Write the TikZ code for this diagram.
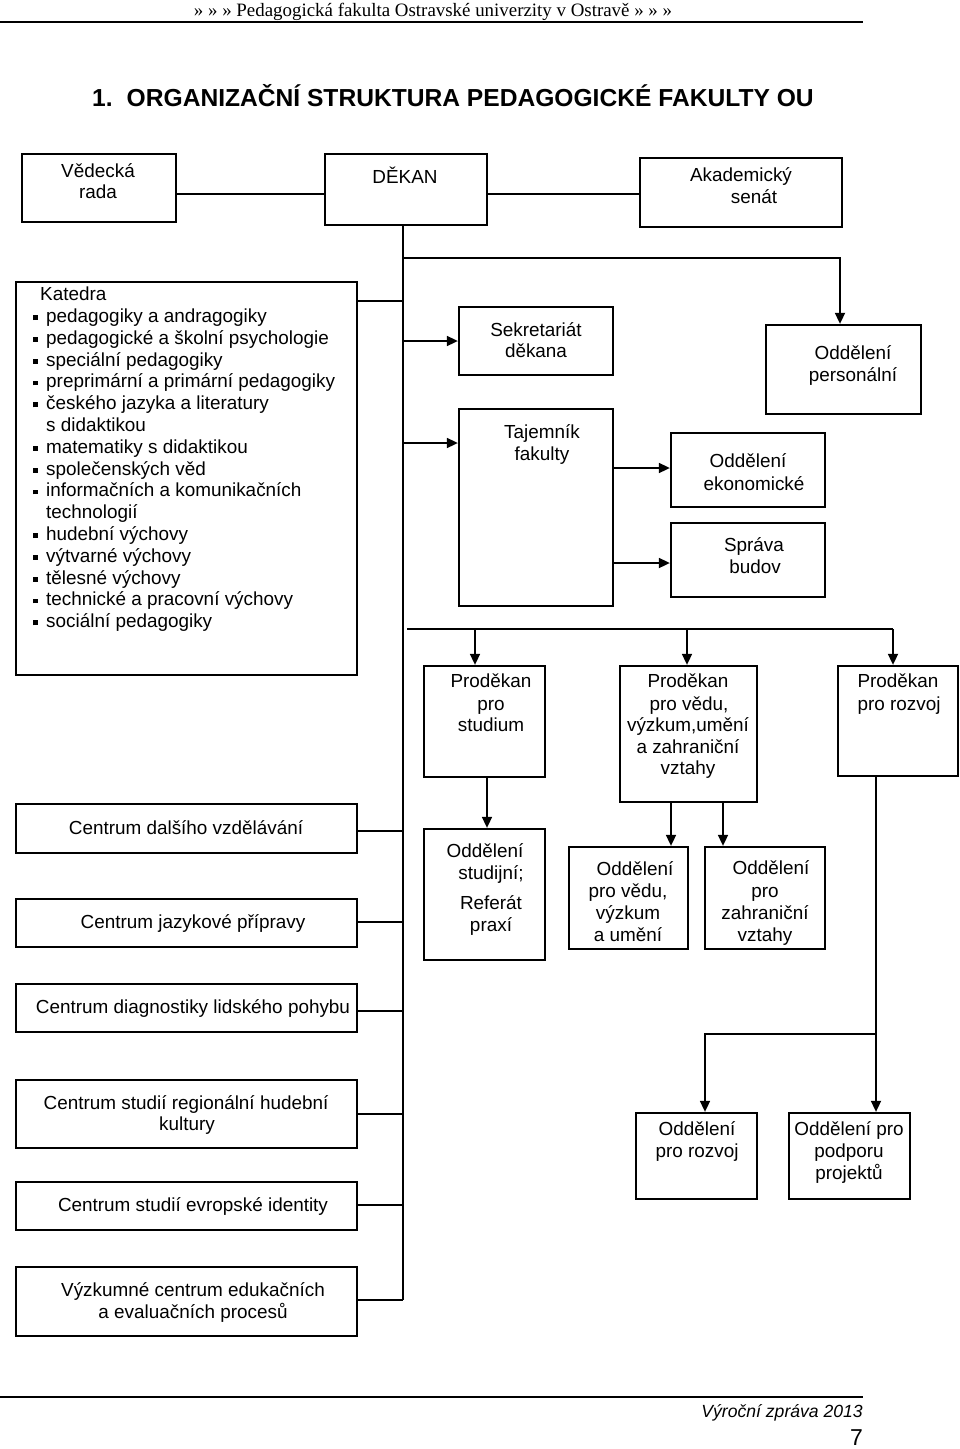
\documentclass[tikz,border=0pt]{standalone}
\usepackage{fontspec}
\setmainfont{Liberation Sans}
\newfontfamily\hdrfont{Liberation Serif}
\usetikzlibrary{arrows.meta,fit}
\newcommand\fs{\fontsize{18.9pt}{21.8pt}\selectfont}
\newcommand\bul{\makebox[13pt][l]{\rule[2.5pt]{4.8pt}{4.8pt}}}
\begin{document}
\begin{tikzpicture}[x=1pt,y=-1pt,
  bx/.style={draw,line width=2.3pt,inner sep=0pt},
  tx/.style={font=\fs,inner sep=0pt,text height=13.5pt,text depth=4pt},
  ln/.style={line width=1.7pt},
  ar/.style={line width=1.7pt,-{Triangle[length=11pt,width=10pt]}}]
\fill[white] (0,0) rectangle (960,1449);
\useasboundingbox (0,0) rectangle (960,1449);

% header and footer
\node[anchor=base,font=\hdrfont\fontsize{18.9pt}{22pt}\selectfont,inner sep=0pt] (hdr) at (433,16) {» » » Pedagogická fakulta Ostravské univerzity v Ostravě » » »};
\draw[line width=1.8pt] (0,22) -- (863,22);
\node[anchor=base west,font=\bfseries\fontsize{24.6pt}{28pt}\selectfont,inner sep=0pt] (title) at (92,106) {1.\hspace{14pt}ORGANIZAČNÍ STRUKTURA PEDAGOGICKÉ FAKULTY OU};
\draw[line width=1.4pt] (0,1397) -- (863,1397);
\node[anchor=base east,font=\itshape\fontsize{17.6pt}{20pt}\selectfont,inner sep=0pt] (foot) at (863,1417) {Výroční zpráva 2013};
\node[anchor=base east,font=\fontsize{23pt}{26pt}\selectfont,inner sep=0pt] (page) at (863,1445) {7};

% boxes
\node[bx,fit={(22,154)(176,222)}] (ved) {};
\node[bx,fit={(325,154)(487,225)}] (dek) {};
\node[bx,fit={(640,158)(842,227)}] (aka) {};
\node[bx,fit={(16,282)(357,675)}] (kat) {};
\node[bx,fit={(459,307)(613,375)}] (sek) {};
\node[bx,fit={(459,409)(613,606)}] (taj) {};
\node[bx,fit={(766,325)(921,414)}] (per) {};
\node[bx,fit={(671,433)(825,507)}] (eko) {};
\node[bx,fit={(671,523)(825,597)}] (spr) {};
\node[bx,fit={(424,666)(545,777)}] (pst) {};
\node[bx,fit={(620,666)(757,802)}] (pvv) {};
\node[bx,fit={(838,666)(958,776)}] (prz) {};
\node[bx,fit={(424,829)(545,960)}] (ost) {};
\node[bx,fit={(569,847)(688,949)}] (ovv) {};
\node[bx,fit={(705,847)(825,949)}] (ozv) {};
\node[bx,fit={(636,1113)(757,1199)}] (orz) {};
\node[bx,fit={(789,1113)(910,1199)}] (opp) {};
\node[bx,fit={(16,804)(357,853)}] (cdv) {};
\node[bx,fit={(16,899)(357,947)}] (cjp) {};
\node[bx,fit={(16,984)(357,1032)}] (cdl) {};
\node[bx,fit={(16,1080)(357,1148)}] (csr) {};
\node[bx,fit={(16,1182)(357,1230)}] (cse) {};
\node[bx,fit={(16,1267)(357,1336)}] (vce) {};

% texts
\node[tx] (ved1) at (98,173) {Vědecká};
\node[tx] (ved2) at (98,194) {rada};
\node[tx] (dek1) at (405,179) {DĚKAN};
\node[tx] (aka1) at (741,177) {Akademický};
\node[tx] (aka2) at (754,199) {senát};
\node[tx] (sek1) at (536,332) {Sekretariát};
\node[tx] (sek2) at (536,353) {děkana};
\node[tx] (taj1) at (542,434) {Tajemník};
\node[tx] (taj2) at (542,456) {fakulty};
\node[tx] (per1) at (853,355) {Oddělení};
\node[tx] (per2) at (853,377) {personální};
\node[tx] (eko1) at (748,463) {Oddělení};
\node[tx] (eko2) at (754,486) {ekonomické};
\node[tx] (spr1) at (754,547) {Správa};
\node[tx] (spr2) at (755,569) {budov};
\node[tx] (pst1) at (491,683) {Proděkan};
\node[tx] (pst2) at (491,706) {pro};
\node[tx] (pst3) at (491,727) {studium};
\node[tx] (pvv1) at (688,683) {Proděkan};
\node[tx] (pvv2) at (689,706) {pro vědu,};
\node[tx] (pvv3) at (688,727) {výzkum,umění};
\node[tx] (pvv4) at (688,749) {a zahraniční};
\node[tx] (pvv5) at (688,770) {vztahy};
\node[tx] (prz1) at (898,683) {Proděkan};
\node[tx] (prz2) at (899,706) {pro rozvoj};
\node[tx] (ost1) at (485,853) {Oddělení};
\node[tx] (ost2) at (491,875) {studijní;};
\node[tx] (ost3) at (491,905) {Referát};
\node[tx] (ost4) at (491,927) {praxí};
\node[tx] (ovv1) at (635,871) {Oddělení};
\node[tx] (ovv2) at (628,893) {pro vědu,};
\node[tx] (ovv3) at (628,915) {výzkum};
\node[tx] (ovv4) at (628,937) {a umění};
\node[tx] (ozv1) at (771,870) {Oddělení};
\node[tx] (ozv2) at (765,893) {pro};
\node[tx] (ozv3) at (765,915) {zahraniční};
\node[tx] (ozv4) at (765,937) {vztahy};
\node[tx] (orz1) at (697,1131) {Oddělení};
\node[tx] (orz2) at (697,1153) {pro rozvoj};
\node[tx] (opp1) at (849,1131) {Oddělení pro};
\node[tx] (opp2) at (849,1153) {podporu};
\node[tx] (opp3) at (849,1175) {projektů};
\node[tx] (cdv1) at (186,830) {Centrum dalšího vzdělávání};
\node[tx] (cjp1) at (193,924) {Centrum jazykové přípravy};
\node[tx] (cdl1) at (193,1009) {Centrum diagnostiky lidského pohybu};
\node[tx] (csr1) at (186,1105) {Centrum studií regionální hudební};
\node[tx] (csr2) at (187,1126) {kultury};
\node[tx] (cse1) at (193,1207) {Centrum studií evropské identity};
\node[tx] (vce1) at (193,1292) {Výzkumné centrum edukačních};
\node[tx] (vce2) at (193,1314) {a evaluačních procesů};

% Katedra list
\node[tx,anchor=west] (k0) at (40,296) {Katedra};
\node[tx,anchor=west] (k1) at (33,317.8) {\bul pedagogiky a andragogiky};
\node[tx,anchor=west] (k2) at (33,339.6) {\bul pedagogické a školní psychologie};
\node[tx,anchor=west] (k3) at (33,361.4) {\bul speciální pedagogiky};
\node[tx,anchor=west] (k4) at (33,383.2) {\bul preprimární a primární pedagogiky};
\node[tx,anchor=west] (k5) at (33,405) {\bul českého jazyka a literatury};
\node[tx,anchor=west] (k6) at (46,426.8) {s didaktikou};
\node[tx,anchor=west] (k7) at (33,448.6) {\bul matematiky s didaktikou};
\node[tx,anchor=west] (k8) at (33,470.4) {\bul společenských věd};
\node[tx,anchor=west] (k9) at (33,492.2) {\bul informačních a komunikačních};
\node[tx,anchor=west] (k10) at (46,514) {technologií};
\node[tx,anchor=west] (k11) at (33,535.8) {\bul hudební výchovy};
\node[tx,anchor=west] (k12) at (33,557.6) {\bul výtvarné výchovy};
\node[tx,anchor=west] (k13) at (33,579.4) {\bul tělesné výchovy};
\node[tx,anchor=west] (k14) at (33,601.2) {\bul technické a pracovní výchovy};
\node[tx,anchor=west] (k15) at (33,623) {\bul sociální pedagogiky};

% rails
\coordinate (tk) at (403,0);
\coordinate (tkend) at (403,1300);
\coordinate (pc) at (840,258);
\coordinate (dl) at (407,629);
\coordinate (dr) at (893,629);
\coordinate (rz) at (876,1034);
\coordinate (rl) at (705,1034);

% connectors
\draw[ln] (ved.east |- 0,194) -- (dek.west |- 0,194);
\draw[ln] (dek.east |- 0,194) -- (aka.west |- 0,194);
\draw[ln] (tk |- dek.south) -- (tkend);
\draw[ar] (tk |- pc) -- (pc) -- (pc |- per.north);
\draw[ar] (tk |- 0,341) -- (sek.west |- 0,341);
\draw[ar] (tk |- 0,443) -- (taj.west |- 0,443);
\draw[ar] (taj.east |- 0,468) -- (eko.west |- 0,468);
\draw[ar] (taj.east |- 0,563) -- (spr.west |- 0,563);
\draw[ln] (dl) -- (dr);
\draw[ar] (475,629) -- (475,629 |- pst.north);
\draw[ar] (687,629) -- (687,629 |- pvv.north);
\draw[ar] (dr) -- (dr |- prz.north);
\draw[ar] (487,0 |- pst.south) -- (487,0 |- ost.north);
\draw[ar] (671,0 |- pvv.south) -- (671,0 |- ovv.north);
\draw[ar] (723,0 |- pvv.south) -- (723,0 |- ozv.north);
\draw[ar] (rz |- prz.south) -- (rz |- opp.north);
\draw[ar] (rz) -- (rl) -- (rl |- orz.north);
\draw[ln] (kat.east |- 0,301) -- (tk |- 0,301);
\draw[ln] (cdv.east |- 0,831) -- (tk |- 0,831);
\draw[ln] (cjp.east |- 0,922) -- (tk |- 0,922);
\draw[ln] (cdl.east |- 0,1011) -- (tk |- 0,1011);
\draw[ln] (csr.east |- 0,1114) -- (tk |- 0,1114);
\draw[ln] (cse.east |- 0,1205) -- (tk |- 0,1205);
\draw[ln] (vce.east |- 0,1300) -- (tkend);
\end{tikzpicture}
\end{document}
